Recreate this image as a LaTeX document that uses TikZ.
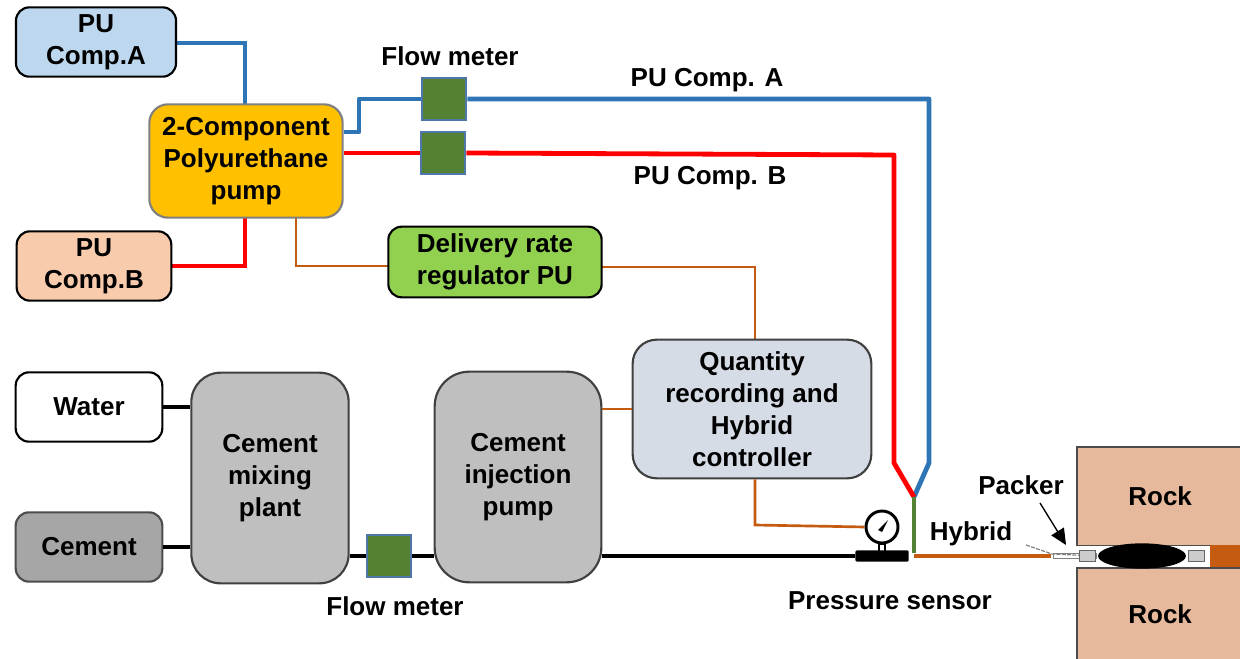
\documentclass[tikz,border=0pt]{standalone}
\usepackage{fontspec}
\setmainfont{Liberation Sans}
\usetikzlibrary{arrows.meta,calc,shapes.geometric}
\definecolor{cblue}{HTML}{BDD7EE}
\definecolor{cpeach}{HTML}{F8CBAD}
\definecolor{cgold}{HTML}{FFC000}
\definecolor{cgreen}{HTML}{92D050}
\definecolor{cgrey}{HTML}{BFBFBF}
\definecolor{cdgrey}{HTML}{A6A6A6}
\definecolor{cpale}{HTML}{D6DCE5}
\definecolor{crock}{HTML}{E6B99D}
\definecolor{lblue}{HTML}{2E75B6}
\definecolor{lorange}{HTML}{C55A11}
\definecolor{lgreen}{HTML}{548235}
\definecolor{lred}{HTML}{FF0000}
\definecolor{fmedge}{HTML}{4F78A8}
\tikzset{
 x=0.75pt,y=-0.75pt,
 every node/.style={font=\fontsize{19.5}{24}\selectfont\bfseries,align=center,inner sep=0pt},
 box/.style={draw=black,line width=1.6pt,rounded corners=10pt,anchor=center,text=black},
 txt/.style={text=black},
 flowm/.style={draw=fmedge,line width=2pt,fill=lgreen,minimum width=33pt,minimum height=31.5pt},
 thinb/.style={lblue,line width=2.4pt},
 thinr/.style={lred,line width=2.4pt},
 thino/.style={lorange,line width=2pt},
 thickb/.style={lblue,line width=3.6pt,line join=round},
 thickr/.style={lred,line width=3.6pt,line join=round},
 blk/.style={black,line width=3.4pt},
}
\begin{document}
\begin{tikzpicture}
\useasboundingbox (0,0) rectangle (1240,659);
\coordinate (jA1) at (245,43);
\coordinate (jB1) at (245,266);
\coordinate (jO1) at (296,266);
\coordinate (jq) at (755,267);
\coordinate (j1) at (359,132);
\coordinate (j2) at (359,99);
\coordinate (a1) at (929,99);
\coordinate (a2) at (929,463);
\coordinate (b1) at (894,155);
\coordinate (b2) at (894,463);
\coordinate (m) at (914,497);
\coordinate (gb) at (914,553);
\coordinate (hy1) at (914,556);
\coordinate (hy2) at (1051,556);
\coordinate (pk1) at (1052,554);
\coordinate (pk2) at (1095,556);
\coordinate (qs) at (755,525);
\coordinate (pa) at (1040,503);
\coordinate (pb) at (1066,545);

\draw[thinb] (176,43) -- (jA1) -- (245,110);
\draw[thinr] (170,266) -- (jB1) -- (245,215);
\draw[thino] (296,215) -- (jO1) -- (390,266);
\draw[thino] (600,267) -- (jq) -- (755,342);

\node[box,fill=cblue,minimum width=120pt,minimum height=52pt] (pua) at (96,42) {PU\\Comp.A};
\node[box,fill=cpeach,minimum width=116pt,minimum height=52pt] (pub) at (94,266) {PU\\Comp.B};
\node[box,draw=gray,fill=cgold,minimum width=145pt,minimum height=85pt,rounded corners=14pt] (pump) at (246,161) {2-Component\\Polyurethane\\pump};
\node[box,fill=cgreen,minimum width=160pt,minimum height=53pt] (reg) at (495,262) {Delivery rate\\regulator PU};
\node[box,fill=white,minimum width=110pt,minimum height=52pt] (water) at (89,407) {Water};
\node[box,fill=cdgrey,minimum width=110pt,minimum height=52pt,draw=black!70] (cement) at (89,547) {Cement};
\node[box,draw=black!75,fill=cgrey,minimum width=118pt,minimum height=158pt,rounded corners=22pt] (mix) at (270,478) {Cement\\mixing\\plant};
\node[box,draw=black!75,fill=cgrey,minimum width=125pt,minimum height=158pt,rounded corners=26pt] (inj) at (518,477) {Cement\\injection\\pump};
\node[box,fill=cpale,draw=black!75,minimum width=179pt,minimum height=104pt,rounded corners=18pt] (ctrl) at (752,409) {Quantity\\recording and\\Hybrid\\controller};
\node[flowm] (fmA) at (444,99) {};
\node[flowm] (fmB) at (443,153) {};
\node[flowm,minimum width=33pt] (fmC) at (389,556) {};

\node[draw=black,line width=2.2pt,circle,minimum size=24pt,fill=white] (gauge) at (882,527) {};
\fill[black] ($(gauge.center)+(-4,3)$) -- ($(gauge.center)+(6,-7)$) -- ($(gauge.center)+(0,5)$) -- cycle;
\node[draw=black,fill=white,line width=1.4pt,minimum width=5pt,minimum height=6pt] (stem) at (882,548) {};
\node[fill=black,minimum width=40pt,minimum height=8.5pt,rounded corners=1pt] (sens) at (882,556) {};

\draw[thino] (ctrl.east |- ctrl.west) ++(0,0);
\draw[thino] (inj.east |- ctrl.west) ++(0,0) -- (ctrl.west);
\draw[thino] (ctrl.south -| qs) -- (qs) -- (gauge.west);
\draw[thickb] (pump.east |- j1) -- (j1) -- (j2) -- (fmA.west);
\draw[thickb] (fmA.east) -- (a1) -- (a2) -- (m);
\draw[thickr] (pump.east |- fmB.west) -- (fmB.west);
\draw[thickr] (fmB.east) -- (b1) -- (b2) -- (m);
\draw[lgreen,line width=3.6pt] (m) -- (gb);
\draw[blk] (water.east) -- (mix.west |- water.east);
\draw[blk] (cement.east) -- (mix.west |- cement.east);
\draw[blk] (mix.east |- fmC.west) -- (fmC.west);
\draw[blk] (fmC.east) -- (inj.west |- fmC.east);
\draw[blk] (inj.east |- sens.west) -- (sens.west);
\draw[lorange,line width=3.4pt] (hy1) -- (hy2);

\node[draw=black!70,fill=crock,line width=1.2pt,minimum width=125pt,minimum height=74pt,anchor=north west] (rock1) at (1076,446) {Rock};
\node[draw=black!70,fill=crock,line width=1.2pt,minimum width=125pt,minimum height=69pt,anchor=north west] (rock2) at (1076,567) {Rock};
\node[fill=white,minimum width=122pt,minimum height=15pt,anchor=west] (gap) at (1078,556) {};
\node[fill=lorange,minimum width=22pt,minimum height=16.5pt,anchor=east] (hyb2) at (1240,556) {};
\node[fill=white,draw=gray,line width=0.6pt,minimum width=32pt,minimum height=4pt] (ptube) at (1075,556) {};
\draw[gray,line width=0.9pt,dash pattern=on 3pt off 1pt] (1026,545) -- (pk1) -- (pk2);
\node[fill=gray!40,draw=black!60,minimum width=12pt,minimum height=8pt] (c1) at (1087,556) {};
\node[fill=gray!40,draw=black!60,minimum width=12pt,minimum height=8pt] (c2) at (1196,556) {};
\node[fill=black,shape=ellipse,minimum width=66pt,minimum height=19pt] (pack) at (1142,556) {};
\draw[black,line width=1pt,-{Triangle[length=12pt,width=11pt]}] (pa) -- (pb);

\node[txt] (t1) at (450,56) {Flow meter};
\node[txt] (t2) at (707,80) {PU Comp. A};
\node[txt] (t3) at (710,178) {PU Comp. B};
\node[txt] (t4) at (395,606) {Flow meter};
\node[txt] (t5) at (890,601) {Pressure sensor};
\node[txt] (t6) at (971,534) {Hybrid};
\node[txt] (t7) at (1021,485) {Packer};
\end{tikzpicture}
\end{document}
